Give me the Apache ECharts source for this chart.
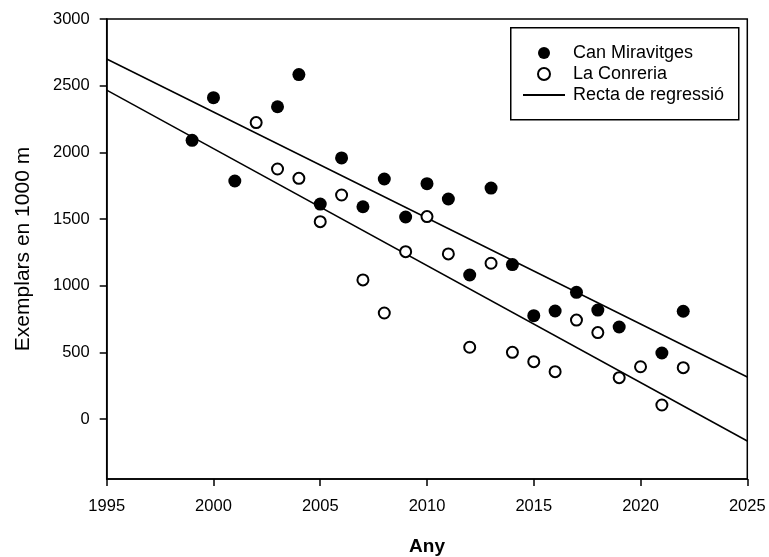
<!DOCTYPE html>
<html>
<head>
<meta charset="utf-8">
<script src="https://cdn.jsdelivr.net/npm/echarts@6/dist/echarts.min.js"></script>
<style>html,body{margin:0;padding:0;background:#fff}#c{width:769px;height:557px}</style>
</head>
<body>
<div id="c"></div>
<script>
var canYears = [1999,2000,2001,2003,2004,2005,2006,2007,2008,2009,2010,2011,2012,2013,2014,2015,2016,2017,2018,2019,2021,2022];
var canValues = [2090,2410,1785,2342,2583,1612,1958,1592,1800,1515,1765,1650,1080,1732,1158,775,810,950,817,690,495,808];
var conYears = [2002,2003,2004,2005,2006,2007,2008,2009,2010,2011,2012,2013,2014,2015,2016,2017,2018,2019,2020,2021,2022];
var conValues = [2223,1875,1805,1480,1680,1043,795,1255,1518,1238,538,1168,500,430,355,742,648,310,392,105,385];
var regCanYears = [1995,2025];
var regCanValues = [2700,315];
var regConYears = [1995,2025];
var regConValues = [2467,-165];
var yTicks = [0,500,1000,1500,2000,2500,3000];

function pairs(xs, ys){ return xs.map(function(x,i){ return [x, ys[i]]; }); }
function plain(v){ return String(v); }

var FONT = "'Liberation Sans', Arial, sans-serif";
var chart = echarts.init(document.getElementById('c'), null, {renderer:'canvas'});
chart.setOption({
  animation: false,
  backgroundColor: '#fff',
  grid: {left: 106.7, right: 21.7, top: 19, bottom: 78, outerBoundsMode: 'none', containLabel: false,
         show: true, borderColor: '#000', borderWidth: 1.5, backgroundColor: 'transparent'},
  xAxis: {
    type: 'value', min: 1995, max: 2025, interval: 5,
    name: 'Any', nameLocation: 'middle', nameGap: 58,
    nameTextStyle: {fontFamily: FONT, fontSize: 19, fontWeight: 'bold', color: '#000'},
    axisLine: {show: true, onZero: false, lineStyle: {color: '#000', width: 1.5}},
    axisTick: {show: true, inside: false, length: 7, lineStyle: {color: '#000', width: 1.5}},
    axisLabel: {fontFamily: FONT, fontSize: 16.5, color: '#000', margin: 19, formatter: plain},
    splitLine: {show: false}
  },
  yAxis: {
    type: 'value', min: -450, max: 3000,
    name: 'Exemplars en 1000 m', nameLocation: 'middle', nameGap: 73, nameRotate: 90,
    nameTextStyle: {fontFamily: FONT, fontSize: 21, color: '#000'},
    axisLine: {show: true, onZero: false, lineStyle: {color: '#000', width: 1.5}},
    axisTick: {show: true, inside: false, length: 7, customValues: yTicks, lineStyle: {color: '#000', width: 1.5}},
    axisLabel: {fontFamily: FONT, fontSize: 16.5, color: '#000', margin: 17, customValues: yTicks, formatter: plain},
    splitLine: {show: false}
  },
  legend: {
    orient: 'vertical', left: 522, top: 44, padding: 0, itemWidth: 42, itemHeight: 12, itemGap: 3,
    textStyle: {fontFamily: FONT, fontSize: 18, color: '#000', lineHeight: 18, padding: [0,0,0,3]},
    data: ['Can Miravitges', 'La Conreria',
      {name: 'Recta de regressió', itemStyle: {opacity: 0, color: 'transparent', borderWidth: 0}}]
  },
  graphic: [{
    type: 'rect', left: 510, top: 27, shape: {width: 228, height: 92},
    style: {fill: 'transparent', stroke: '#000', lineWidth: 1.5}, z: 100, silent: true
  }],
  series: [
    {name: 'Recta de regressió', type: 'line', data: pairs(regCanYears, regCanValues), symbol: 'none',
     lineStyle: {color: '#000', width: 1.5}, itemStyle: {color: '#000'}, z: 1},
    {name: 'Recta de regressió', type: 'line', data: pairs(regConYears, regConValues), symbol: 'none',
     lineStyle: {color: '#000', width: 1.5}, itemStyle: {color: '#000'}, z: 1},
    {name: 'Can Miravitges', type: 'scatter', data: pairs(canYears, canValues), symbol: 'circle', symbolSize: 13,
     itemStyle: {color: '#000', opacity: 1}, z: 3},
    {name: 'La Conreria', type: 'scatter', data: pairs(conYears, conValues), symbol: 'circle', symbolSize: 11,
     itemStyle: {color: '#fff', borderColor: '#000', borderWidth: 2, opacity: 1}, z: 3}
  ]
});
</script>
</body>
</html>
